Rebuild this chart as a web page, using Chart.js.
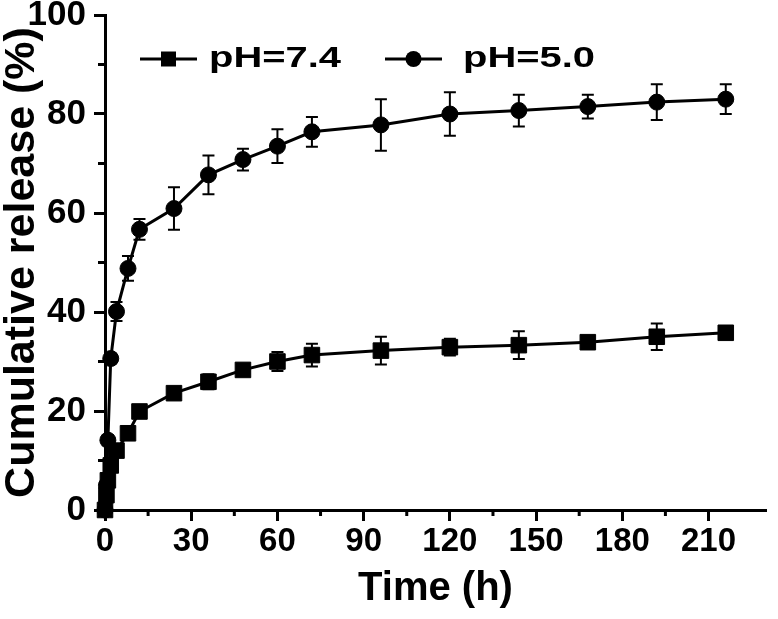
<!DOCTYPE html>
<html>
<head>
<meta charset="utf-8">
<script src="https://cdn.jsdelivr.net/npm/chart.js@4.4.1/dist/chart.umd.min.js"></script>
<style>
  html, body { margin: 0; padding: 0; background: #fff; }
  #chart { display: block; }
</style>
</head>
<body>
<canvas id="chart" width="778" height="619"></canvas>
<script>
// sampling times (h)
var times = [0, 0.5, 1, 2, 4, 8, 12, 24, 36, 48, 60, 72, 96, 120, 144, 168, 192, 216];

// cumulative release (%) and error (+/-)
var release74 = [0, 3, 6, 9, 12, 15.5, 19.9, 23.6, 25.9, 28.3, 30, 31.3, 32.2, 32.9, 33.3, 33.9, 35, 35.8];
var err74 = [0, 0.5, 0.8, 1, 1, 1, 0.6, 0.8, 1.5, 1, 1.9, 2.3, 2.8, 1.7, 2.8, 0.6, 2.7, 1];

var release50 = [0, 5, 14.1, 30.6, 40.1, 48.8, 56.7, 60.9, 67.7, 70.8, 73.5, 76.4, 77.8, 80, 80.7, 81.5, 82.4, 83];
var err50 = [0, 0.8, 1, 1, 1.9, 2.5, 2.1, 4.3, 3.9, 2.2, 3.4, 3, 5.2, 4.4, 3.2, 2.4, 3.6, 3];

var seriesNames = ['pH=7.4', 'pH=5.0'];

var fontFam = '"Liberation Sans", Arial, Helvetica, sans-serif';

function toPoints(ys) {
  return times.map(function (t, i) { return {x: t, y: ys[i]}; });
}

// error bars under the markers
var errorBars = {
  id: 'errorBars',
  beforeDatasetsDraw: function (chart) {
    var ctx = chart.ctx;
    var xs = chart.scales.x, ys = chart.scales.y;
    ctx.save();
    ctx.strokeStyle = '#000';
    ctx.lineWidth = 2;
    chart.data.datasets.forEach(function (ds) {
      ds.errors.forEach(function (e, i) {
        if (!e) return;
        var px = xs.getPixelForValue(ds.data[i].x);
        var top = ys.getPixelForValue(ds.data[i].y + e);
        var bot = ys.getPixelForValue(ds.data[i].y - e);
        ctx.beginPath();
        ctx.moveTo(px, top); ctx.lineTo(px, bot);
        ctx.moveTo(px - 6, top); ctx.lineTo(px + 6, top);
        ctx.moveTo(px - 6, bot); ctx.lineTo(px + 6, bot);
        ctx.stroke();
      });
    });
    ctx.restore();
  }
};

// short minor ticks (15 h / 10 %)
var minorTicks = {
  id: 'minorTicks',
  afterDraw: function (chart) {
    var ctx = chart.ctx, xs = chart.scales.x, ys = chart.scales.y;
    ctx.save();
    ctx.strokeStyle = '#000';
    ctx.lineWidth = 3;
    ctx.beginPath();
    xs.ticks.forEach(function (t) {
      if (t.value % 30 !== 15) return;
      var p = xs.getPixelForValue(t.value);
      ctx.moveTo(p, xs.top); ctx.lineTo(p, xs.top + 6);
    });
    ys.ticks.forEach(function (t) {
      if (t.value % 20 !== 10) return;
      var p = ys.getPixelForValue(t.value);
      ctx.moveTo(ys.right, p); ctx.lineTo(ys.right - 7, p);
    });
    ctx.stroke();
    ctx.restore();
  }
};

// legend inside the plot: line - marker - line, then wide bold text
var keyLegend = {
  id: 'keyLegend',
  afterDraw: function (chart) {
    var ctx = chart.ctx;
    var symX = [140, 385];
    var textX = [209, 463];
    var y0 = 59;
    chart.data.datasets.forEach(function (ds, i) {
      ctx.save();
      ctx.strokeStyle = '#000';
      ctx.fillStyle = '#000';
      ctx.lineWidth = 3;
      ctx.beginPath();
      ctx.moveTo(symX[i], y0);
      ctx.lineTo(symX[i] + 57, y0);
      ctx.stroke();
      var cx = symX[i] + 28.5;
      ctx.beginPath();
      if (ds.pointStyle === 'rect') {
        ctx.rect(cx - 7.5, y0 - 7.5, 15, 15);
      } else {
        ctx.arc(cx, y0, 8, 0, Math.PI * 2);
      }
      ctx.fill();
      ctx.font = 'bold 30px ' + fontFam;
      ctx.textBaseline = 'alphabetic';
      var w = ctx.measureText(ds.label).width;
      ctx.translate(textX[i], 67);
      ctx.scale(132 / w, 1);
      ctx.fillText(ds.label, 0, 0);
      ctx.restore();
    });
  }
};

var ctx = document.getElementById('chart').getContext('2d');
var chart = new Chart(ctx, {
  type: 'line',
  data: {
    datasets: [{
      label: seriesNames[0],
      data: toPoints(release74),
      errors: err74,
      borderColor: '#000',
      backgroundColor: '#000',
      borderWidth: 3,
      pointStyle: 'rect',
      pointRadius: 11,
      pointBorderWidth: 1,
      pointBackgroundColor: '#000',
      pointBorderColor: '#000',
      tension: 0,
      clip: false
    }, {
      label: seriesNames[1],
      data: toPoints(release50),
      errors: err50,
      borderColor: '#000',
      backgroundColor: '#000',
      borderWidth: 3,
      pointStyle: 'circle',
      pointRadius: 8,
      pointBorderWidth: 1,
      pointBackgroundColor: '#000',
      pointBorderColor: '#000',
      tension: 0,
      clip: false
    }]
  },
  options: {
    responsive: false,
    animation: false,
    devicePixelRatio: 1,
    layout: { padding: { top: 15, right: 1, left: 0, bottom: 0 } },
    plugins: {
      legend: { display: false },
      tooltip: { enabled: false }
    },
    scales: {
      x: {
        type: 'linear',
        min: 0,
        max: 230,
        afterFit: function (s) {
          s.height = 109;
          s.paddingLeft = 0; s.paddingRight = 0;
        },
        border: { display: true, color: '#000', width: 3 },
        grid: {
          display: true,
          drawOnChartArea: false,
          drawTicks: true,
          tickLength: 11,
          tickWidth: 3,
          tickColor: function (c) {
            return c.tick && c.tick.value % 30 === 0 ? '#000' : 'rgba(0,0,0,0)';
          }
        },
        ticks: {
          stepSize: 15,
          autoSkip: false,
          maxRotation: 0,
          padding: 1,
          color: '#000',
          font: { family: fontFam, size: 33, weight: 'bold' },
          callback: function (v) { return v % 30 === 0 ? v : ''; }
        },
        title: {
          display: true,
          text: 'Time (h)',
          color: '#000',
          font: { family: fontFam, size: 40, weight: 'bold', lineHeight: 1.2 },
          padding: { top: 0, bottom: 6 }
        }
      },
      y: {
        min: 0,
        max: 100,
        afterFit: function (s) {
          s.width = 105;
          s.paddingTop = 0; s.paddingBottom = 0;
        },
        border: { display: true, color: '#000', width: 3 },
        grid: {
          display: true,
          drawOnChartArea: false,
          drawTicks: true,
          tickLength: 11,
          tickWidth: 3,
          tickColor: function (c) {
            return c.tick && c.tick.value % 20 === 0 ? '#000' : 'rgba(0,0,0,0)';
          }
        },
        ticks: {
          stepSize: 10,
          autoSkip: false,
          padding: 8,
          color: '#000',
          font: { family: fontFam, size: 35, weight: 'bold' },
          callback: function (v) { return v % 20 === 0 ? v : ''; }
        },
        title: {
          display: true,
          text: 'Cumulative release (%)',
          color: '#000',
          font: { family: fontFam, size: 43, weight: 'bold', lineHeight: 1.0 },
          padding: { top: 1, bottom: 0 }
        }
      }
    }
  },
  plugins: [errorBars, minorTicks, keyLegend]
});
</script>
</body>
</html>
